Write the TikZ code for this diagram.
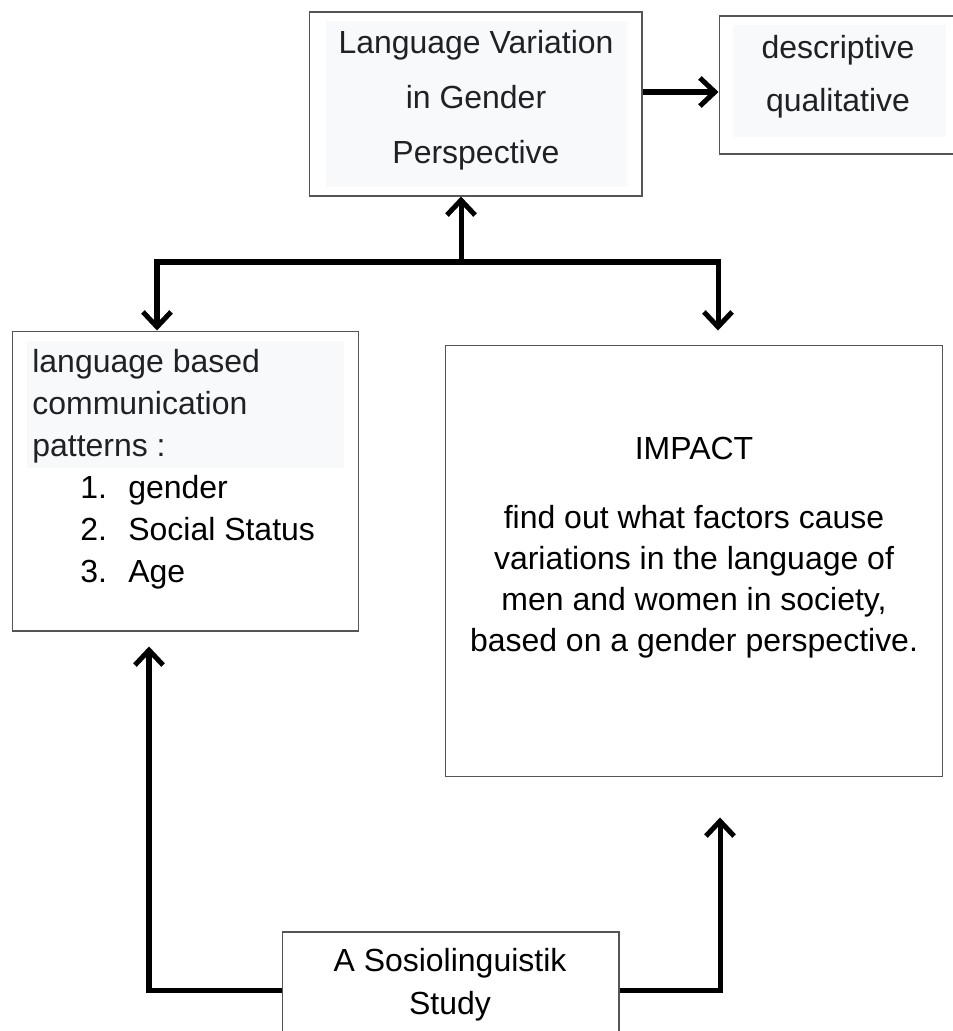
\documentclass[tikz,border=0pt]{standalone}
\usepackage{fontspec}
\setmainfont{Liberation Sans}
\usetikzlibrary{arrows.meta}

\definecolor{paneshade}{HTML}{F8F9FA}
\definecolor{inkgray}{HTML}{202124}
\definecolor{framegray}{HTML}{555555}

\tikzset{
  box/.style={draw=framegray, line width=0.6pt, inner sep=0pt},
  txt/.style={inner sep=0pt, font=\fontsize{18.2pt}{#1}\selectfont},
  txt/.default={30pt},
  arrowline/.style={line width=2.85pt, -{Straight Barb[length=8.5pt,width=16pt]}},
}

\begin{document}
\begin{tikzpicture}[x=0.02cm, y=-0.02cm]
   \clip (0,0) rectangle (953,1031);
   \fill[white] (0,0) rectangle (953,1031);

   % boxes
   \node[box, minimum width=6.66cm, minimum height=3.68cm] (gender) at (475.5,104) {};
   \node[box, minimum width=4.76cm, minimum height=2.76cm] (method) at (838,85) {};
   \node[box, minimum width=6.94cm, minimum height=6.00cm] (patterns) at (185.5,481) {};
   \node[box, minimum width=9.96cm, minimum height=8.64cm] (impact) at (694,561) {};
   \node[box, minimum width=6.74cm, minimum height=2.32cm] (study) at (450.5,990) {};

   \fill[paneshade] (326,21) rectangle (627,187);
   \fill[paneshade] (733,25) rectangle (946,137);
   \fill[paneshade] (27,341) rectangle (344,468);

   % texts
   \node[txt=31.3pt, align=center, text=inkgray] (gendertext) at (476,100)
      {Language Variation\\in Gender\\Perspective};
   \node[txt=30pt, align=center, text=inkgray] (methodtext) at (838,77)
      {descriptive\\qualitative};
   \node[txt=23.9pt, align=left, anchor=north west] (patternstext) at (32,349)
      {{\color{inkgray}language based}\\
       {\color{inkgray}communication}\\
       {\color{inkgray}patterns :}\\
       \hspace*{0.96cm}\makebox[0.96cm][l]{1.}gender\\
       \hspace*{0.96cm}\makebox[0.96cm][l]{2.}Social Status\\
       \hspace*{0.96cm}\makebox[0.96cm][l]{3.}Age};
   \node[txt] (impacttitle) at (694,448) {IMPACT};
   \node[txt=23.3pt, align=center] (impacttext) at (694,582)
      {find out what factors cause\\variations in the language of\\men and women in society,\\based on a gender perspective.};
   \node[txt=24.5pt, align=center] (studytext) at (450,985)
      {A Sosiolinguistik\\Study};

   % connectors
   \coordinate (split) at (461,262);
   \coordinate (jleft) at (157,262);
   \coordinate (jright) at (718,262);
   \coordinate (lcol) at (149,990);
   \coordinate (rcol) at (720,990);

   \draw[arrowline] ([yshift=-0.14cm]method.west -| gender.east) -- ([yshift=-0.14cm]method.west);
   \draw[arrowline] (split) -- (split |- gender.south);
   \draw[arrowline] (split) -- (jleft) -- (jleft |- patterns.north);
   \draw[arrowline] (split) -- (jright) -- ([yshift=0.28cm]jright |- impact.north);
   \draw[arrowline] (study.west) -- (lcol) -- ([yshift=-0.3cm]lcol |- patterns.south);
   \draw[arrowline] (study.east) -- (rcol) -- ([yshift=-0.8cm]rcol |- impact.south);
\end{tikzpicture}
\end{document}
